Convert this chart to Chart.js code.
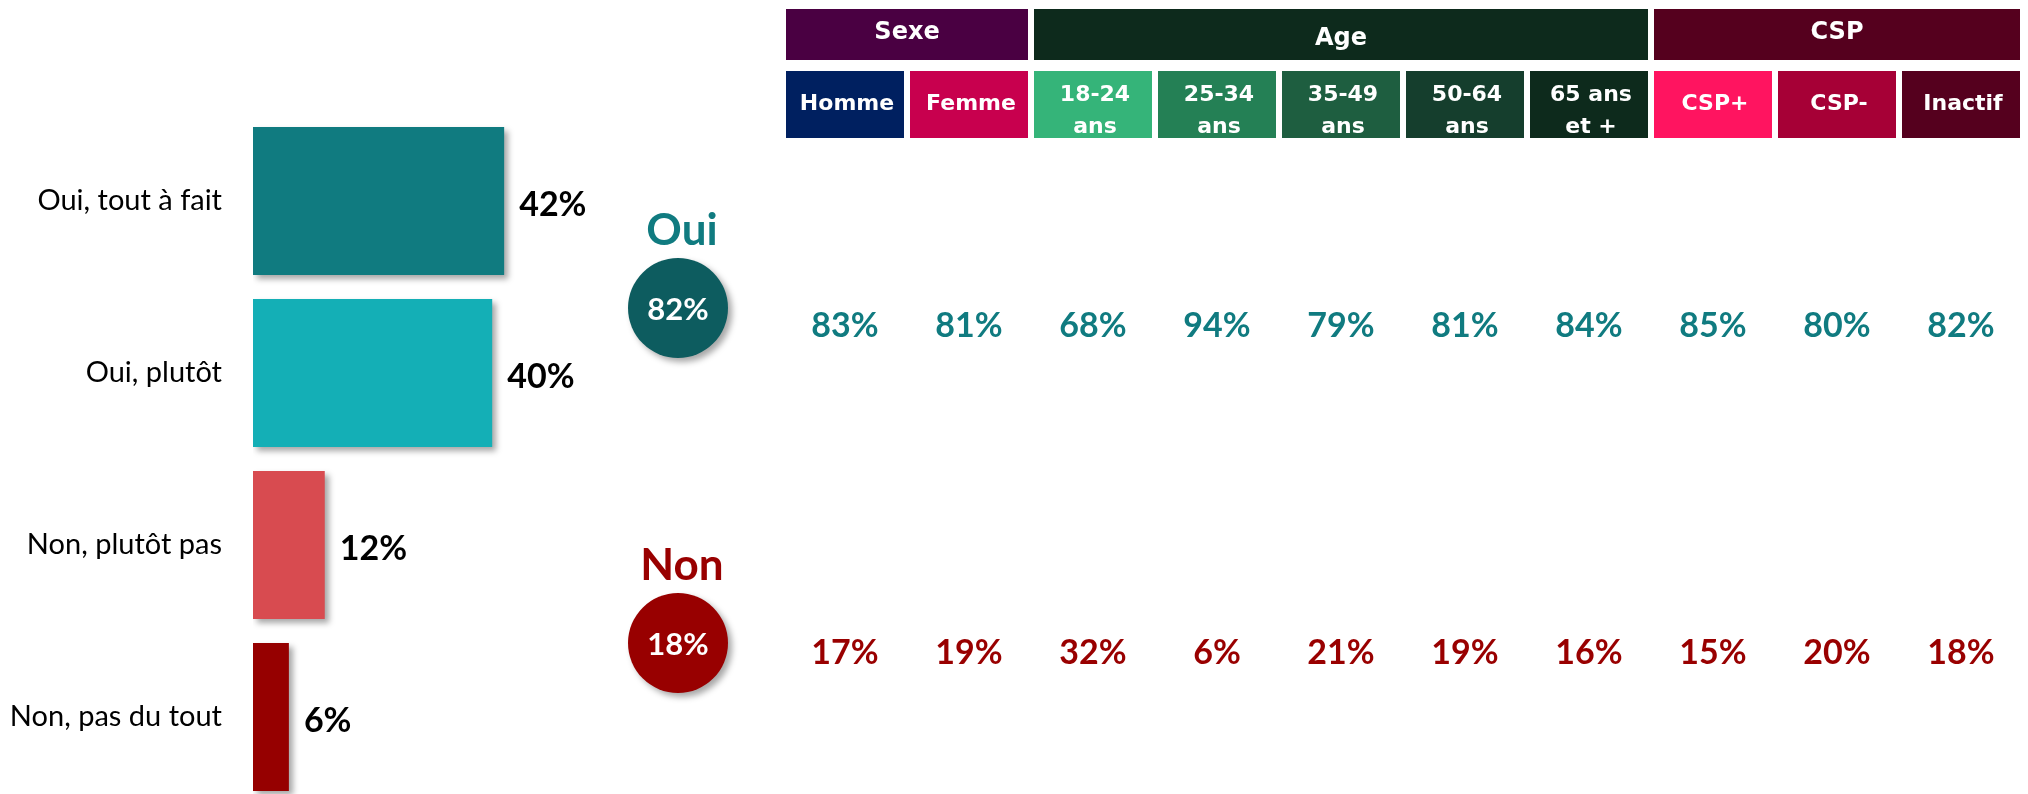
<!DOCTYPE html>
<html lang="fr">
<head>
<meta charset="utf-8">
<title>Oui / Non par cible</title>
<script src="https://cdn.jsdelivr.net/npm/chart.js@4.4.1/dist/chart.umd.min.js"></script>
<style>
  html, body { margin: 0; padding: 0; background: #fff; overflow: hidden; }
  body { width: 2028px; height: 794px; position: relative; }
  .box { position: absolute; top: 0; height: 794px; }
  /* plus haut que la page : le dernier barreau est coupe en bas */
  #answers-box { left: 0; width: 600px; height: 810px; }
  #totals-box { left: 608px; width: 140px; }
  #table-box { left: 760px; width: 1268px; }
</style>
</head>
<body>
<div class="box" id="answers-box"><canvas id="answersChart"></canvas></div>
<div class="box" id="totals-box"><canvas id="totalsChart"></canvas></div>
<div class="box" id="table-box"><canvas id="tableChart"></canvas></div>

<script>
// reponses detaillees
const answerLabels = ["Oui, tout à fait", "Oui, plutôt", "Non, plutôt pas", "Non, pas du tout"];
const answerValues = [42, 40, 12, 6];

// totaux
const totalLabels = ["Oui", "Non"];
const totalValues = [82, 18];

// tableau par cible
const groupLabels = ["Sexe", "Age", "CSP"];
const groupSizes = [2, 5, 3];
const subgroupLabels = ["Homme", "Femme", ["18-24", "ans"], ["25-34", "ans"], ["35-49", "ans"],
  ["50-64", "ans"], ["65 ans", "et +"], "CSP+", "CSP-", "Inactif"];
const ouiValues = [83, 81, 68, 94, 79, 81, 84, 85, 80, 82];
const nonValues = [17, 19, 32, 6, 21, 19, 16, 15, 20, 18];

// couleurs
const answerColors = ["#107B80", "#14AFB6", "#D84B50", "#960000"];
const totalColors = ["#0D5C5F", "#980000"];
const totalTitleColors = ["#107B80", "#990000"];
const rowColors = ["#107B80", "#990000"];
const groupColors = ["#4A0042", "#0D2A1C", "#55001E"];
const subgroupColors = ["#002060", "#C8004E", "#35B479", "#248055", "#1E5E40",
  "#153E2D", "#0D2A1C", "#FF1460", "#A60036", "#55001E"];

const LABEL_FONT = "Lato, 'Open Sans', sans-serif";
const HEAD_FONT = "'DejaVu Sans', Verdana, sans-serif";

Chart.defaults.font.family = LABEL_FONT;

// ombre portee sous les barres / cercles
const shadowPlugin = {
  id: "shadow",
  beforeDatasetsDraw(chart) {
    const ctx = chart.ctx;
    ctx.save();
    ctx.shadowColor = "rgba(0,0,0,0.35)";
    ctx.shadowBlur = 6;
    ctx.shadowOffsetX = 4;
    ctx.shadowOffsetY = 4;
  },
  afterDatasetsDraw(chart) {
    chart.ctx.restore();
  },
};

const barValuePlugin = {
  id: "barValues",
  afterDraw(chart) {
    const ctx = chart.ctx;
    const meta = chart.getDatasetMeta(0);
    ctx.save();
    ctx.font = "bold 34px " + LABEL_FONT;
    ctx.fillStyle = "#000";
    ctx.textAlign = "left";
    ctx.textBaseline = "middle";
    meta.data.forEach((bar, i) => {
      ctx.fillText(answerValues[i] + "%", bar.x + 15, bar.y + 4);
    });
    ctx.restore();
  },
};

new Chart(document.getElementById("answersChart"), {
  type: "bar",
  data: {
    labels: answerLabels,
    datasets: [
      {
        data: answerValues,
        backgroundColor: answerColors,
        borderWidth: 0,
        categoryPercentage: 1,
        barPercentage: 0.86,
      },
    ],
  },
  options: {
    indexAxis: "y",
    responsive: true,
    maintainAspectRatio: false,
    animation: false,
    layout: { padding: { top: 115, bottom: 7, left: 0, right: 48 } },
    plugins: { legend: { display: false }, tooltip: { enabled: false } },
    scales: {
      x: { min: 0, max: 50, display: false },
      y: {
        grid: { display: false, drawTicks: false },
        border: { display: false },
        ticks: { color: "#000", font: { size: 29 }, padding: 31 },
        afterFit: (scale) => {
          scale.width = 253;
          scale.paddingTop = 0;
          scale.paddingBottom = 0;
        },
      },
    },
  },
  plugins: [shadowPlugin, barValuePlugin],
});

// cercles Oui / Non
const totalsPlugin = {
  id: "totalsText",
  afterDraw(chart) {
    const ctx = chart.ctx;
    const meta = chart.getDatasetMeta(0);
    ctx.save();
    ctx.textAlign = "center";
    ctx.textBaseline = "middle";
    meta.data.forEach((pt, i) => {
      ctx.font = "bold 44px " + LABEL_FONT;
      ctx.fillStyle = totalTitleColors[i];
      ctx.fillText(totalLabels[i], pt.x + 4, pt.y - 77);
      ctx.font = "bold 31px " + LABEL_FONT;
      ctx.fillStyle = "#fff";
      ctx.fillText(totalValues[i] + "%", pt.x, pt.y + 2);
    });
    ctx.restore();
  },
};

new Chart(document.getElementById("totalsChart"), {
  type: "scatter",
  data: {
    datasets: [
      {
        data: totalLabels.map((lab) => ({ x: "Total", y: lab })),
        pointRadius: 50,
        pointHoverRadius: 50,
        pointBackgroundColor: totalColors,
        pointBorderWidth: 0,
        clip: false,
      },
    ],
  },
  options: {
    responsive: true,
    maintainAspectRatio: false,
    animation: false,
    layout: { padding: { top: 308, bottom: 151, left: 10, right: 10 } },
    plugins: { legend: { display: false }, tooltip: { enabled: false } },
    scales: {
      x: { type: "category", labels: ["Total"], offset: true, display: false },
      y: { type: "category", labels: totalLabels, offset: false, display: false },
    },
  },
  plugins: [shadowPlugin, totalsPlugin],
});

// en-tetes + valeurs du tableau
const headerPlugin = {
  id: "headers",
  beforeDraw(chart) {
    const { ctx, scales } = chart;
    const x = scales.x;
    const half = x.width / subgroupLabels.length / 2 - 3;
    ctx.save();
    ctx.textAlign = "center";
    ctx.textBaseline = "middle";
    ctx.font = "bold 24px " + HEAD_FONT;
    let start = 0;
    groupLabels.forEach((g, gi) => {
      const end = start + groupSizes[gi] - 1;
      const left = x.getPixelForValue(start) - half;
      const right = x.getPixelForValue(end) + half;
      ctx.fillStyle = groupColors[gi];
      ctx.fillRect(left, 9, right - left, 51);
      ctx.fillStyle = "#fff";
      ctx.fillText(g, (left + right) / 2, gi === 1 ? 39 : 33);
      start = end + 1;
    });
    ctx.font = "bold 22px " + HEAD_FONT;
    subgroupLabels.forEach((lab, i) => {
      const cx = x.getPixelForValue(i);
      ctx.fillStyle = subgroupColors[i];
      ctx.fillRect(cx - half, 71, half * 2, 67);
      ctx.fillStyle = "#fff";
      const lines = [].concat(lab);
      if (lines.length === 1) {
        ctx.fillText(lines[0], cx + 2, 104);
      } else {
        ctx.fillText(lines[0], cx + 2, 95);
        ctx.fillText(lines[1], cx + 2, 127);
      }
    });
    ctx.restore();
  },
  afterDraw(chart) {
    const ctx = chart.ctx;
    ctx.save();
    ctx.textAlign = "center";
    ctx.textBaseline = "middle";
    ctx.font = "bold 34px " + LABEL_FONT;
    chart.data.datasets.forEach((ds, di) => {
      chart.getDatasetMeta(di).data.forEach((pt, i) => {
        ctx.fillStyle = rowColors[di];
        ctx.fillText(ds.values[i] + "%", pt.x, pt.y);
      });
    });
    ctx.restore();
  },
};

new Chart(document.getElementById("tableChart"), {
  type: "scatter",
  data: {
    datasets: [
      { values: ouiValues, data: ouiValues.map((v, i) => ({ x: i, y: "Oui" })), pointRadius: 0 },
      { values: nonValues, data: nonValues.map((v, i) => ({ x: i, y: "Non" })), pointRadius: 0 },
    ],
  },
  options: {
    responsive: true,
    maintainAspectRatio: false,
    animation: false,
    layout: { padding: { top: 326, bottom: 141, left: 23, right: 5 } },
    plugins: { legend: { display: false }, tooltip: { enabled: false } },
    scales: {
      x: { type: "category", labels: subgroupLabels, offset: true, display: false },
      y: { type: "category", labels: totalLabels, offset: false, display: false },
    },
  },
  plugins: [headerPlugin],
});
</script>
</body>
</html>
